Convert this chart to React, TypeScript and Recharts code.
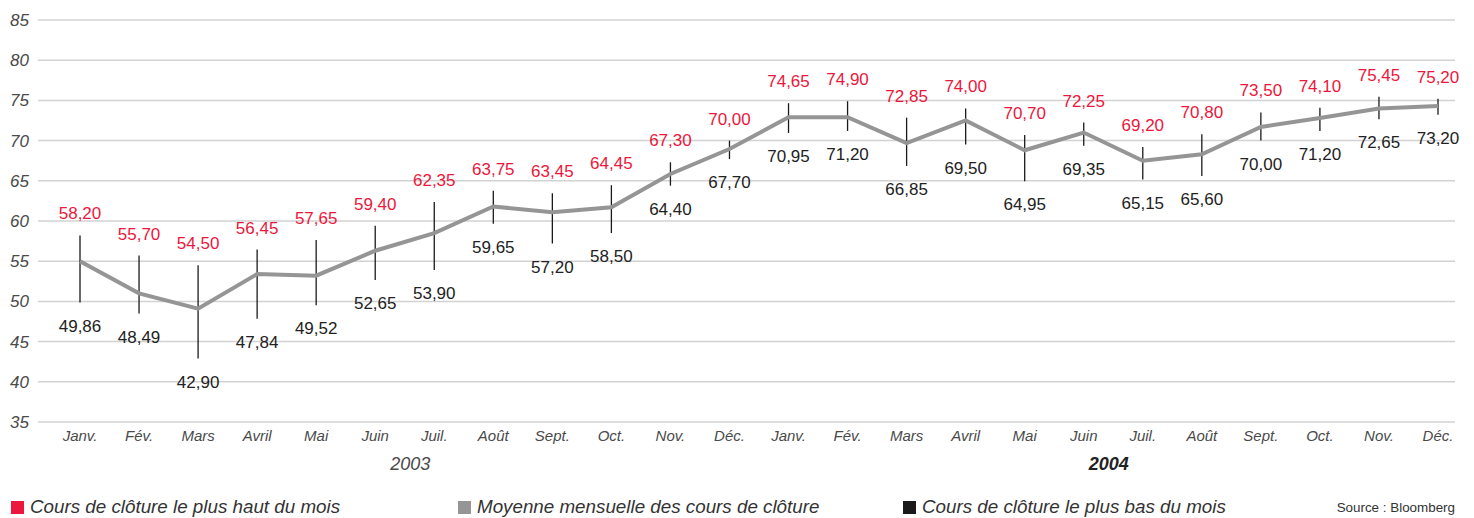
import React from "react";
import {
  ComposedChart,
  Line,
  XAxis,
  YAxis,
  CartesianGrid,
  ErrorBar,
  LabelList,
  Legend,
} from "recharts";

const months = [
  "Janv.", "Fév.", "Mars", "Avril", "Mai", "Juin", "Juil.", "Août", "Sept.", "Oct.", "Nov.", "Déc.",
  "Janv.", "Fév.", "Mars", "Avril", "Mai", "Juin", "Juil.", "Août", "Sept.", "Oct.", "Nov.", "Déc.",
];
const years = ["2003", "2004"];

const highValues = [
  58.2, 55.7, 54.5, 56.45, 57.65, 59.4, 62.35, 63.75, 63.45, 64.45, 67.3, 70.0,
  74.65, 74.9, 72.85, 74.0, 70.7, 72.25, 69.2, 70.8, 73.5, 74.1, 75.45, 75.2,
];
const lowValues = [
  49.86, 48.49, 42.9, 47.84, 49.52, 52.65, 53.9, 59.65, 57.2, 58.5, 64.4, 67.7,
  70.95, 71.2, 66.85, 69.5, 64.95, 69.35, 65.15, 65.6, 70.0, 71.2, 72.65, 73.2,
];
const avgValues = [
  55.0, 51.0, 49.1, 53.4, 53.2, 56.3, 58.5, 61.8, 61.1, 61.7, 65.85, 68.95,
  72.9, 72.9, 69.7, 72.5, 68.8, 71.0, 67.5, 68.3, 71.7, 72.8, 74.0, 74.3,
];
const yTicks = [35, 40, 45, 50, 55, 60, 65, 70, 75, 80, 85];

const legendLabels = [
  "Cours de clôture le plus haut du mois",
  "Moyenne mensuelle des cours de clôture",
  "Cours de clôture le plus bas du mois",
];
const sourceText = "Source : Bloomberg";

const RED = "#ec173c";
const GRAY = "#959595";
const BLACK = "#1a1a1a";
const AXIS_TEXT = "#4a4a4a";
const FONT = "'Liberation Sans', Arial, Helvetica, sans-serif";

const data = months.map((m, i) => ({
  id: `${i < 12 ? years[0] : years[1]}-${i}`,
  month: m,
  high: highValues[i],
  low: lowValues[i],
  avg: avgValues[i],
  err: [avgValues[i] - lowValues[i], highValues[i] - avgValues[i]],
}));

const fmt = (v: any) => Number(v).toFixed(2).replace(".", ",");

const XTick = (props: any) => {
  const { x, y, payload, index } = props;
  const i = typeof index === "number" ? index : payload?.index ?? 0;
  const label = months[i];
  return (
    <g>
      <text
        x={x}
        y={y + 19}
        textAnchor="middle"
        fontSize={15}
        fontStyle="italic"
        fill={AXIS_TEXT}
        fontFamily={FONT}
      >
        {label}
      </text>
      {i === 5 && (
        <text x={x + 35} y={y + 48} textAnchor="middle" fontSize={18} fontStyle="italic" fill={AXIS_TEXT} fontFamily={FONT}>
          {years[0]}
        </text>
      )}
      {i === 17 && (
        <text x={x + 25} y={y + 48} textAnchor="middle" fontSize={18} fontStyle="italic" fontWeight="bold" fill="#222" fontFamily={FONT}>
          {years[1]}
        </text>
      )}
    </g>
  );
};

const YTick = (props: any) => {
  const { x, y, payload } = props;
  return (
    <text
      x={x - 9}
      y={y + 6}
      textAnchor="end"
      fontSize={17}
      fontStyle="italic"
      fill={AXIS_TEXT}
      fontFamily={FONT}
    >
      {payload.value}
    </text>
  );
};

const LegendContent = () => {
  const colors = [RED, GRAY, BLACK];
  const lefts = [11, 458, 903];
  return (
    <div style={{ position: "relative", width: 1474, height: 28, fontFamily: FONT }}>
      {legendLabels.map((l, i) => (
        <div key={l} style={{ position: "absolute", left: lefts[i], top: 3, height: 28, display: "flex", alignItems: "center" }}>
          <span style={{ display: "inline-block", width: 13, height: 13, background: colors[i], marginRight: 6, marginTop: 1 }} />
          <span style={{ fontSize: 18.8, fontStyle: "italic", color: "#333", lineHeight: "28px" }}>{l}</span>
        </div>
      ))}
      <div style={{ position: "absolute", right: 19, top: 3, height: 28, lineHeight: "29px", fontSize: 13.4, color: "#333" }}>
        {sourceText}
      </div>
    </div>
  );
};

export default function App() {
  return (
    <div style={{ position: "absolute", left: 0, top: 0, width: 1474, height: 518, background: "#fff", overflow: "hidden" }}>
      <ComposedChart
        width={1474}
        height={518}
        data={data}
        margin={{ top: 20, right: 19, bottom: 0, left: 0 }}
      >
        <CartesianGrid vertical={false} stroke="#d2d2d2" strokeWidth={1.5} />
        <XAxis
          dataKey="id"
          scale="point"
          padding={{ left: 42, right: 17 }}
          axisLine={false}
          tickLine={false}
          tickSize={0}
          tickMargin={0}
          height={68}
          interval={0}
          tick={<XTick />}
        />
        <YAxis
          domain={[35, 85]}
          ticks={yTicks}
          allowDataOverflow
          axisLine={false}
          tickLine={false}
          tickSize={0}
          tickMargin={0}
          width={38}
          interval={0}
          tick={<YTick />}
        />
        <Line
          dataKey="avg"
          stroke={GRAY}
          strokeWidth={4}
          dot={false}
          activeDot={false}
          isAnimationActive={false}
          legendType="none"
        >
          <ErrorBar dataKey="err" direction="y" width={0} stroke={BLACK} strokeWidth={1.3} isAnimationActive={false} />
        </Line>
        <Line
          dataKey="high"
          stroke="none"
          dot={false}
          activeDot={false}
          isAnimationActive={false}
          legendType="none"
        >
          <LabelList dataKey="high" position="top" offset={16} fill={RED} fontSize={17} fontFamily={FONT} formatter={fmt} />
        </Line>
        <Line
          dataKey="low"
          stroke="none"
          dot={false}
          activeDot={false}
          isAnimationActive={false}
          legendType="none"
        >
          <LabelList dataKey="low" position="bottom" offset={17} fill="#222" fontSize={17} fontFamily={FONT} formatter={fmt} />
        </Line>
        <Legend
          verticalAlign="bottom"
          align="left"
          content={<LegendContent />}
          wrapperStyle={{ left: 0, width: 1474, height: 28 }}
        />
      </ComposedChart>
    </div>
  );
}
